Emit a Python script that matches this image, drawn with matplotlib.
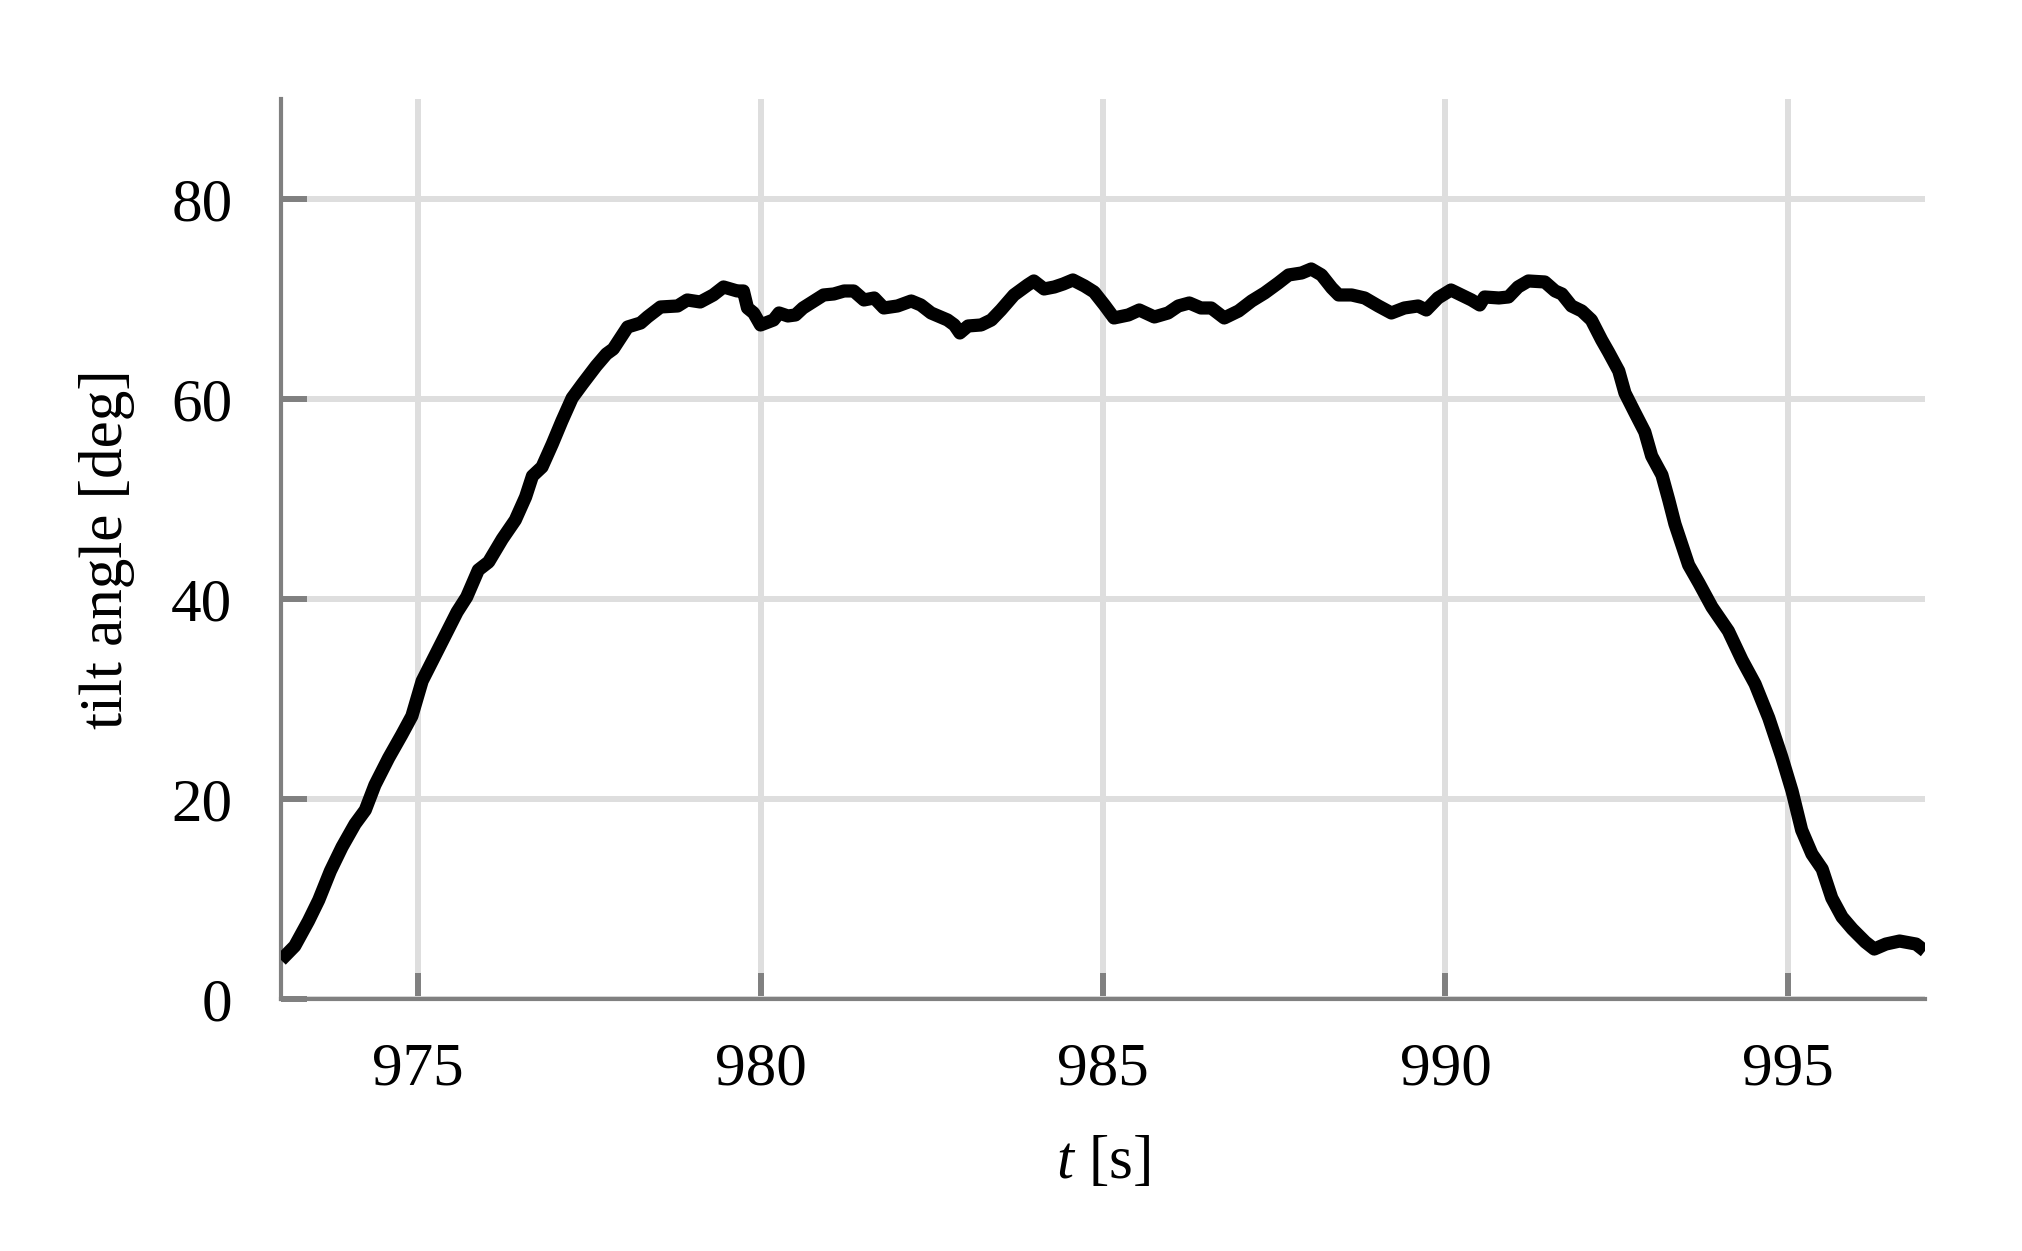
import matplotlib
matplotlib.use("Agg")
import matplotlib.pyplot as plt

# tilt angle trace
t = [973.00, 973.20, 973.40, 973.55, 973.72, 973.89, 974.08, 974.23, 974.37, 974.57,
     974.76, 974.91, 975.06, 975.20, 975.40, 975.57, 975.71, 975.88, 976.03, 976.23,
     976.42, 976.57, 976.67, 976.81, 976.96, 977.10, 977.25, 977.40, 977.60, 977.75,
     977.85, 978.06, 978.25, 978.35, 978.54, 978.79, 978.93, 979.12, 979.31, 979.46,
     979.66, 979.75, 979.81, 979.90, 980.00, 980.19, 980.27, 980.40, 980.51, 980.62,
     980.78, 980.92, 981.07, 981.22, 981.36, 981.51, 981.66, 981.80, 982.00, 982.20,
     982.34, 982.49, 982.73, 982.83, 982.91, 983.03, 983.22, 983.37, 983.51, 983.70,
     983.90, 983.99, 984.14, 984.29, 984.42, 984.56, 984.73, 984.87, 985.02, 985.16,
     985.37, 985.53, 985.75, 985.95, 986.10, 986.26, 986.43, 986.58, 986.77, 986.98,
     987.17, 987.36, 987.56, 987.71, 987.90, 988.04, 988.19, 988.34, 988.44, 988.63,
     988.82, 989.02, 989.21, 989.40, 989.60, 989.72, 989.89, 990.08, 990.23, 990.38,
     990.50, 990.57, 990.78, 990.92, 991.06, 991.21, 991.45, 991.60, 991.70, 991.84,
     991.99, 992.13, 992.28, 992.38, 992.53, 992.62, 992.76, 992.91, 993.01, 993.16,
     993.26, 993.35, 993.55, 993.70, 993.89, 994.13, 994.33, 994.52, 994.72, 994.91,
     995.06, 995.20, 995.35, 995.50, 995.64, 995.79, 995.94, 996.13, 996.26, 996.43,
     996.63, 996.87, 997.00]
tilt = [3.9, 5.3, 7.8, 9.9, 12.8, 15.2, 17.5, 18.9, 21.4, 24.1,
        26.4, 28.3, 31.8, 33.7, 36.4, 38.7, 40.2, 42.9, 43.7, 46.0,
        47.9, 50.2, 52.3, 53.2, 55.5, 57.8, 60.1, 61.5, 63.3, 64.5,
        65.0, 67.2, 67.6, 68.2, 69.2, 69.3, 69.9, 69.7, 70.4, 71.2,
        70.8, 70.8, 69.1, 68.6, 67.4, 67.9, 68.6, 68.3, 68.4, 69.1,
        69.8, 70.4, 70.5, 70.8, 70.8, 69.9, 70.1, 69.1, 69.3, 69.8,
        69.4, 68.6, 67.9, 67.4, 66.6, 67.3, 67.4, 67.9, 68.9, 70.4,
        71.4, 71.8, 71.0, 71.2, 71.5, 71.9, 71.3, 70.7, 69.4, 68.1,
        68.4, 68.9, 68.2, 68.6, 69.3, 69.6, 69.1, 69.1, 68.1, 68.8,
        69.8, 70.6, 71.6, 72.4, 72.6, 73.0, 72.4, 71.1, 70.4, 70.4,
        70.1, 69.3, 68.6, 69.1, 69.3, 68.9, 70.1, 70.9, 70.4, 69.9,
        69.4, 70.2, 70.1, 70.2, 71.2, 71.8, 71.7, 70.8, 70.5, 69.3,
        68.8, 67.9, 65.9, 64.7, 62.8, 60.6, 58.7, 56.7, 54.3, 52.4,
        49.9, 47.5, 43.4, 41.6, 39.2, 36.8, 33.9, 31.5, 28.1, 24.2,
        20.8, 16.9, 14.5, 13.0, 10.1, 8.2, 7.0, 5.7, 5.0, 5.5,
        5.8, 5.5, 4.8]

x_ticks = [975, 980, 985, 990, 995]
y_ticks = [0, 20, 40, 60, 80]

plt.rcParams['font.family'] = ['Liberation Serif', 'DejaVu Serif']
plt.rcParams['mathtext.fontset'] = 'custom'
plt.rcParams['mathtext.rm'] = 'Liberation Serif'
plt.rcParams['mathtext.it'] = 'Liberation Serif:italic'

fig = plt.figure(figsize=(20.22, 12.51), dpi=100)
ax = fig.add_axes([0.139, 0.2014, 0.813, 0.7195])

ax.plot(t, tilt, color='black', linewidth=9.5, solid_joinstyle='round',
        solid_capstyle='butt', zorder=3)

ax.set_xlim(973, 997)
ax.set_ylim(0, 90)
ax.set_xticks(x_ticks)
ax.set_yticks(y_ticks)
ax.grid(True, color='#dedede', linewidth=4.3, zorder=0)
ax.set_axisbelow(True)

for side in ['top', 'right']:
    ax.spines[side].set_visible(False)
for side in ['left', 'bottom']:
    ax.spines[side].set_color('#808080')
    ax.spines[side].set_linewidth(3)

ax.tick_params(axis='both', direction='in', color='#808080', width=4.3,
               length=19, labelsize=44)
ax.tick_params(axis='x', pad=31)
ax.tick_params(axis='y', pad=35)

ax.set_xlabel(r'$t$ [s]', fontsize=44)
ax.set_ylabel('tilt angle [deg]', fontsize=44)
ax.xaxis.set_label_coords(0.5, -0.152)
ax.yaxis.set_label_coords(-0.089, 0.5)

fig.savefig('out.png', dpi=100)
